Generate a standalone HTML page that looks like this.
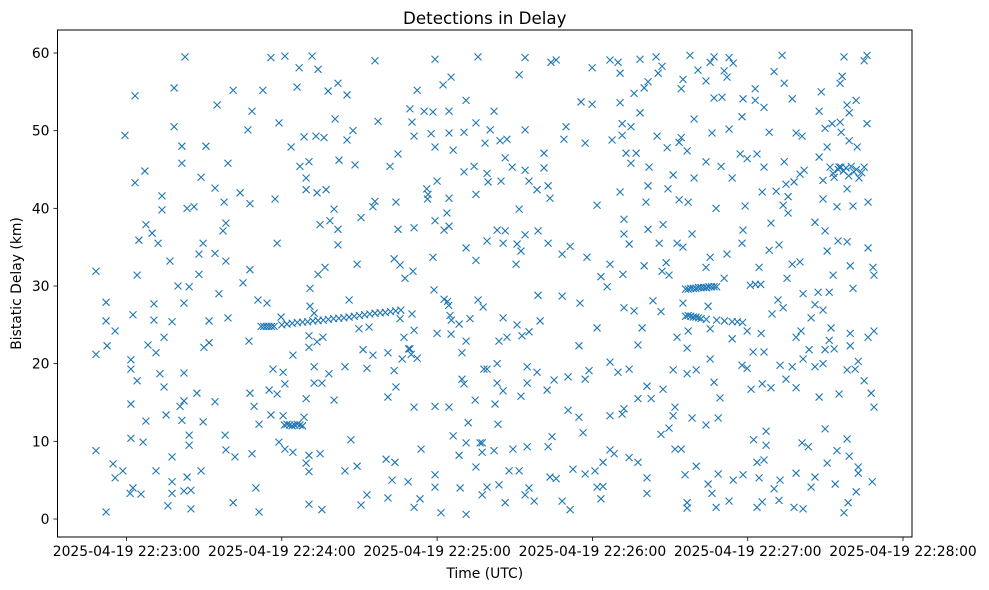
<!DOCTYPE html>
<html><head><meta charset="utf-8"><style>
html,body{margin:0;padding:0;background:#fff;}
svg{display:block;font-family:"DejaVu Sans","Liberation Sans",sans-serif;}
</style></head><body>
<svg id="chart" width="989" height="590" viewBox="0 0 989 590" xmlns="http://www.w3.org/2000/svg"></svg>
<script>
// seconds since 22:23:00 and bistatic delay (km)
const scatterTimes = [
22.6,55.8,61.2,71.7,66.7,74.0,96.0,119.2,135.8,3.3,18.4,41.2,52.7,65.9,81.7,77.9,85.2,112.3,122.3,125.4,131.2,35.0,48.5,109.5,115.0,118.4,124.6,18.4,46.9,58.9,80.6,97.2,110.3,135.0,-0.6,21.4,30.7,68.6,73.2,76.3,87.5,85.2,111.1,117.7,124.6,130.4,119.2,126.2,63.6,21.4,39.2,7.1,28.8,67.0,70.5,82.1,88.3,101.8,104.9,130.4,134.3,3.3,69.4,69.4,77.1,73.6,120.0,13.7,34.2,43.9,57.4,37.7,47.7,96.0,104.1,124.6,135.0,13.7,23.4,26.1,80.2,95.2,7.5,9.9,4.8,12.2,38.4,37.3,74.8,78.6,81.7,90.6,104.9,111.1,119.2,123.8,122.7,124.6,29.6,58.2,81.7,16.8,28.0,34.2,38.4,-11.8,4.1,28.0,47.7,76.7,74.0,89.1,103.4,105.7,107.6,110.7,118.4,131.2,135.0,
-7.9,10.6,22.2,19.9,24.2,35.7,45.0,50.8,54.3,70.9,70.9,86.0,-7.9,2.5,10.6,17.6,31.9,39.2,59.7,72.5,89.8,93.7,118.8,122.7,110.3,105.7,111.1,120.0,125.4,128.5,132.7,135.8,-4.4,14.5,-11.8,-7.5,8.3,11.4,29.9,31.9,47.3,64.3,70.5,70.5,73.6,75.9,91.4,95.2,101.0,107.2,109.5,106.5,112.3,129.6,131.2,1.7,1.7,4.1,12.9,14.5,22.2,56.6,60.5,61.2,58.2,55.1,47.7,72.5,78.2,72.5,75.5,84.4,92.9,103.4,104.1,101.0,129.6,130.4,138.1,1.7,7.5,15.3,20.7,22.2,21.4,27.2,34.2,29.6,49.3,55.8,60.5,68.6,69.4,80.2,111.1,119.2,124.6,134.7,132.0,51.2,1.7,6.4,24.2,24.2,38.1,38.4,41.9,48.5,58.9,61.2,64.3,70.5,74.8,86.7,113.8,126.2,131.2,136.6,128.5,135.0,-11.8,-5.2,-4.4,-1.4,11.4,17.6,28.8,69.4,70.5,84.4,89.1,100.3,103.7,119.2,119.2,102.6,108.8,128.9,1.4,2.5,5.6,17.6,23.4,17.6,22.2,24.9,16.0,24.9,41.2,50.0,51.2,-7.9,70.5,75.5,90.6,92.9,101.0,111.1,113.4,121.5,131.2,137.4,
154.0,151.7,164.0,166.0,179.9,186.8,189.9,190.7,198.4,204.6,206.9,205.4,217.7,220.8,223.9,225.5,227.0,232.8,234.4,230.9,232.0,253.3,250.2,254.1,277.2,285.0,286.1,275.7,276.5,215.0,214.3,201.5,200.0,196.1,142.0,175.6,179.9,190.7,198.4,227.0,230.1,238.2,242.9,242.9,246.3,237.8,257.2,268.4,267.6,278.4,281.9,279.2,275.7,286.1,269.9,272.6,276.1,279.2,282.3,140.5,138.5,144.3,147.0,154.0,169.8,169.0,177.2,187.6,191.5,194.9,191.5,219.3,205.0,208.9,213.5,214.3,216.6,226.2,232.8,248.3,258.7,261.0,267.6,270.7,146.3,149.0,154.0,161.3,161.3,139.3,139.7,144.7,155.5,158.6,162.9,163.6,151.7,193.0,196.9,194.9,201.9,211.2,219.3,223.9,229.7,234.0,237.1,239.8,243.6,246.3,254.1,261.8,260.2,257.9,254.8,251.0,245.6,255.6,253.7,255.6,269.1,271.8,275.3,273.4,278.4,269.1,274.5,280.7,286.5,190.7,201.5,209.2,200.7,213.5,217.0,181.8,227.8,239.0,192.2,192.2,194.2,201.5,207.3,205.8,212.7,215.0,218.5,238.2,237.8,249.0,248.3,252.1,266.0,269.9,274.9,278.4,270.7,286.5,139.3,143.2,146.3,145.5,154.0,150.9,152.4,159.0,162.9,168.3,171.4,177.9,150.5,183.3,186.8,191.8,200.0,208.5,206.9,209.6,223.9,225.5,232.0,244.4,257.2,260.2,279.6,273.0,288.4,288.8,230.9,255.2,
159.0,168.3,175.2,185.7,192.2,196.1,203.4,206.5,215.0,224.7,251.7,253.7,249.4,261.4,266.0,267.2,271.5,269.1,280.7,264.5,137.8,145.5,150.9,152.8,155.5,159.8,143.9,147.0,181.8,174.8,199.2,197.6,212.7,216.6,217.0,225.5,234.0,239.8,245.2,258.7,260.6,272.2,271.5,269.9,273.4,279.6,279.6,286.5,288.8,263.7,261.4,139.3,143.2,154.8,158.6,143.2,145.5,154.8,152.4,162.5,165.2,170.6,177.2,178.7,186.8,189.9,194.2,211.2,216.6,220.1,225.5,237.8,239.8,242.1,246.3,252.5,257.2,266.0,269.1,278.4,282.7,281.5,285.0,287.7,288.8,201.1,207.3,197.6,202.7,227.0,229.3,241.3,245.6,249.0,254.8,258.7,267.6,275.3,142.4,143.5,170.6,174.8,176.4,186.8,191.5,192.2,211.9,211.2,218.5,223.9,228.6,206.5,209.6,247.1,269.9,137.4,137.4,142.0,149.3,154.8,162.9,164.4,186.8,188.4,194.2,197.6,211.9,214.3,242.3,247.1,261.0,263.4,278.4,274.5,279.2,147.8,151.7,172.5,177.2,181.0,184.1,163.6,166.0,220.1,215.8,228.6,234.4,238.2,244.4,243.6,246.3,258.7,252.5,266.0,270.7,282.7,282.7,139.3,143.9,155.5,154.0,146.3,157.5,168.3,171.4,181.8,184.1,183.3,201.1,201.1,224.7,226.2,216.6,216.6,227.8,232.8,243.6,245.6,250.2,252.1,257.9,261.4,264.5,273.8,281.9,278.8,277.2,288.1];
const scatterDelays = [
59.5,59.4,59.6,59.6,58.1,57.9,59.0,59.2,59.5,54.5,55.5,55.2,55.2,55.6,56.1,55.1,54.6,55.2,55.9,56.9,53.9,53.3,52.5,52.8,52.5,52.4,52.5,50.5,50.1,51.0,51.5,51.2,51.1,51.0,49.4,48.0,48.0,49.2,49.3,49.1,50.0,48.8,49.3,49.6,49.7,49.8,47.9,47.5,47.9,45.8,45.8,44.8,44.0,45.4,46.0,46.2,45.6,45.4,47.0,44.7,45.4,43.3,43.9,42.4,42.4,42.0,43.5,41.6,42.6,42.0,41.2,40.8,40.6,40.9,40.8,41.3,41.8,39.8,40.0,40.2,39.9,40.2,37.9,36.8,35.9,35.5,38.1,37.1,37.9,38.4,37.3,38.8,37.3,37.5,38.4,39.4,37.2,37.7,35.5,35.5,35.3,33.2,34.1,34.2,33.2,31.9,31.4,31.5,32.1,32.4,31.5,32.8,33.5,32.7,31.0,31.9,33.7,34.9,33.3,
27.9,27.7,27.8,30.0,29.9,29.0,30.4,28.2,27.8,29.7,27.4,28.2,25.5,26.3,25.6,25.4,25.5,25.9,26.0,26.5,24.5,24.7,29.5,28.3,26.4,25.8,24.3,23.9,23.8,25.1,25.8,28.2,24.2,23.4,21.2,22.3,22.4,21.4,22.1,22.7,22.9,21.1,23.6,22.1,22.8,23.4,21.8,21.1,21.4,23.4,21.9,20.6,20.7,21.4,22.9,20.5,19.3,17.8,18.7,17.0,18.8,19.3,18.9,17.4,16.1,16.6,16.2,19.6,18.7,17.5,17.5,19.6,19.4,19.1,17.0,15.7,18.0,17.4,19.3,14.8,12.6,13.4,14.5,15.2,12.7,16.2,15.1,12.5,14.5,13.4,13.3,13.1,15.5,15.3,14.4,14.5,14.4,15.3,12.4,12.2,10.4,9.9,10.8,9.5,10.8,8.9,8.0,8.4,9.9,9.0,8.6,8.2,8.4,10.2,9.0,10.7,9.8,9.8,8.2,6.7,8.8,7.1,5.3,6.2,6.2,8.0,6.2,7.2,6.1,6.2,6.8,7.7,7.3,5.7,4.1,5.0,4.8,4.0,3.3,4.0,3.2,4.8,5.4,3.3,3.6,3.7,1.7,1.3,2.1,4.0,0.9,0.9,1.9,1.2,1.8,3.1,2.7,1.5,2.6,0.8,0.6,3.1,
59.4,57.2,58.8,59.1,58.1,59.1,58.8,57.4,59.2,59.5,58.3,57.4,59.7,57.8,56.4,58.8,59.5,59.4,58.7,57.7,56.9,59.7,57.6,56.1,59.5,59.0,59.7,56.1,57.0,56.6,55.4,56.3,55.5,54.8,52.5,53.7,53.4,53.6,52.3,54.2,54.3,54.1,55.4,53.9,53.0,51.8,54.1,55.0,52.5,53.3,53.9,52.3,51.1,50.9,50.3,50.9,49.8,48.7,47.9,50.1,48.4,48.7,48.9,50.1,50.5,48.9,48.4,48.8,50.9,50.5,49.4,51.5,49.3,47.8,48.5,49.1,47.4,49.7,50.2,49.8,49.7,49.3,46.6,47.9,46.5,45.3,44.9,47.1,45.2,44.5,43.4,43.5,43.5,42.4,42.9,41.3,39.9,47.1,47.1,45.8,45.3,44.3,43.9,46.0,45.4,43.9,47.0,46.4,47.0,45.3,46.0,44.9,44.4,43.4,43.1,42.2,42.1,41.5,40.4,39.4,43.6,45.3,45.3,44.0,42.5,41.2,40.2,40.3,40.8,42.1,42.9,42.5,40.8,41.1,40.8,40.4,40.0,40.3,38.6,36.7,35.4,37.3,37.9,35.5,35.5,35.0,36.7,37.2,35.5,38.1,34.6,35.3,38.2,37.1,35.8,35.7,34.5,34.9,35.8,37.2,37.1,35.5,36.6,35.4,34.5,37.1,35.5,34.1,35.1,33.7,32.8,31.2,32.8,31.5,32.6,33.0,31.9,31.4,32.4,33.7,34.1,32.4,32.8,33.1,32.6,31.4,32.4,31.4,31.0,31.0,
28.8,28.7,27.8,29.9,27.2,26.8,28.1,26.7,27.8,27.4,28.2,27.2,26.4,29.0,27.6,29.2,29.2,26.9,29.7,25.9,27.3,25.9,25.0,23.6,24.1,25.5,22.9,23.4,24.6,22.3,24.6,22.4,23.4,22.0,24.2,24.5,23.2,24.2,23.9,23.4,24.2,24.6,23.0,21.8,21.9,23.9,22.3,23.4,24.2,21.8,20.6,19.3,20.0,19.6,18.9,17.5,16.5,17.5,15.8,16.6,17.9,18.3,18.0,19.1,20.2,18.9,19.3,19.2,18.7,19.2,20.6,19.8,19.4,21.5,21.5,19.8,19.6,19.6,20.0,19.2,20.3,19.3,17.8,16.2,14.4,17.1,16.7,15.5,15.5,17.6,15.6,16.7,17.4,16.9,18.0,16.9,15.7,16.1,14.8,12.2,14.0,13.1,11.1,13.3,13.5,14.2,14.4,13.3,13.0,12.1,13.0,10.9,11.7,11.3,11.6,9.8,8.6,8.8,9.0,9.3,9.3,10.6,8.9,8.4,7.9,7.3,9.0,9.0,10.2,9.5,9.8,9.3,10.3,8.8,8.1,6.2,6.2,6.4,5.8,6.2,7.3,5.4,5.2,6.8,5.7,5.8,5.0,5.7,5.3,7.3,7.6,5.9,5.0,5.4,7.2,6.7,5.9,4.1,4.4,4.0,3.1,2.1,2.3,2.3,1.2,4.1,4.2,2.6,5.3,3.3,4.5,3.3,2.1,1.4,1.5,2.3,1.5,2.2,3.9,2.4,1.5,1.3,4.1,4.5,3.5,2.1,0.8,4.8];
const trackTimes = [52,53,54,55,56,57,60,62,64,66,68,70,72,74,76,78,80,82,84,86,88,90,92,94,96,98,100,102,104,106,61,62,63,64,65,66,67,68,216,217,218,219,220,221,222,223,224,225,226,227,228,216,217,218,219,220,221,222,224,228,231,234,236,238,241,243,245,273,275,276,277,278,279,280,281,282,283,284,285,116,116.5,116.3,124,124.5,125,125.5,109,110];
const trackDelays = [24.8,24.8,24.8,24.8,24.8,24.8,25.0,25.1,25.2,25.3,25.35,25.4,25.5,25.55,25.6,25.7,25.8,25.85,25.9,26.0,26.1,26.2,26.3,26.4,26.5,26.55,26.6,26.7,26.8,26.9,12.1,12.2,12.1,12.0,12.1,12.2,12.1,12.0,29.6,29.6,29.7,29.7,29.7,29.8,29.8,29.8,29.8,29.9,29.9,29.9,29.9,26.1,26.2,26.1,26.0,26.0,25.9,25.8,25.7,25.6,25.5,25.4,25.4,25.3,30.1,30.2,30.2,44.5,45.0,45.3,44.8,45.2,44.2,45.4,44.7,45.0,43.9,44.6,45.3,42.5,41.8,41.2,28.0,27.5,26.2,25.6,21.9,21.2];
const xTickValues = [0,60,120,180,240,300];
const xTickLabels = ["2025-04-19 22:23:00","2025-04-19 22:24:00","2025-04-19 22:25:00","2025-04-19 22:26:00","2025-04-19 22:27:00","2025-04-19 22:28:00"];
const yTickValues = [0,10,20,30,40,50,60];

const NS="http://www.w3.org/2000/svg";
const svg=document.getElementById('chart');
const L=57.5,R=912,T=30,B=537;
function xs(t){return 126.5+t*(155.3/60);}
function ys(d){return 519-d*(466/60);}
function mk(tag,attrs,parent){const e=document.createElementNS(NS,tag);for(const k in attrs)e.setAttribute(k,attrs[k]);(parent||svg).appendChild(e);return e;}

const marks=mk('g',{});


function drawX(t,d){
  const x=xs(t),y=ys(d),s=3.5;
  const p=mk('path',{d:`M${x-s},${y-s}L${x+s},${y+s}M${x-s},${y+s}L${x+s},${y-s}`,stroke:'#1f77b4','stroke-width':1.1,fill:'none'},marks);
  
  
}
const n=Math.min(scatterTimes.length,scatterDelays.length);
for(let i=0;i<n;i++)drawX(scatterTimes[i],scatterDelays[i]);
for(let i=0;i<trackTimes.length;i++)drawX(trackTimes[i],trackDelays[i]);

const frame=mk('rect',{x:L,y:T,width:R-L,height:B-T,fill:'none',stroke:'#000','stroke-width':1});



for(let i=0;i<xTickValues.length;i++){
  const x=xs(xTickValues[i]);
  const tk=mk('line',{x1:x,x2:x,y1:B,y2:B+4,stroke:'#000','stroke-width':0.8});
  
  
  const tx=mk('text',{x:x,y:B+19,'text-anchor':'middle','font-size':13.9,fill:'#000'});
  tx.textContent=xTickLabels[i];
  
  
}
for(let i=0;i<yTickValues.length;i++){
  const y=ys(yTickValues[i]);
  const tk=mk('line',{x1:L-4,x2:L,y1:y,y2:y,stroke:'#000','stroke-width':0.8});
  
  
  const tx=mk('text',{x:L-8,y:y+5,'text-anchor':'end','font-size':13.9,fill:'#000'});
  tx.textContent=String(yTickValues[i]);
  
  
}
const title=mk('text',{x:(L+R)/2,y:24,'text-anchor':'middle','font-size':16.7,fill:'#000'});
title.textContent='Detections in Delay';


const xl=mk('text',{x:(L+R)/2,y:578,'text-anchor':'middle','font-size':13.9,fill:'#000'});
xl.textContent='Time (UTC)';


const yl=mk('text',{x:0,y:0,'text-anchor':'middle','font-size':13.9,fill:'#000',transform:`translate(21,${(T+B)/2}) rotate(-90)`});
yl.textContent='Bistatic Delay (km)';


</script>
</body></html>
